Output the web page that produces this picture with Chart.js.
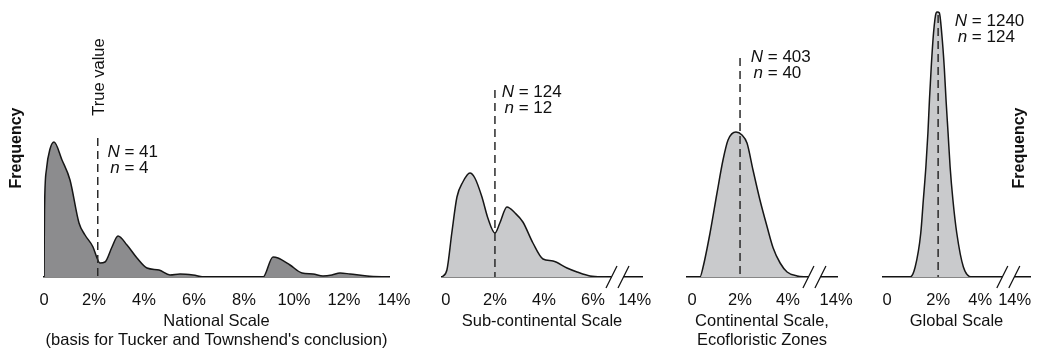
<!DOCTYPE html>
<html>
<head>
<meta charset="utf-8">
<script src="https://cdn.jsdelivr.net/npm/chart.js@4.4.1/dist/chart.umd.min.js"></script>
<style>
  html, body { margin: 0; padding: 0; background: #fff; overflow: hidden; }
  #wrap { position: relative; width: 1037px; height: 352px; overflow: hidden; }
  canvas { position: absolute; top: 0; }
</style>
</head>
<body>
<div id="wrap">
  <canvas id="c1" width="440" height="352" style="left:0px"></canvas>
  <canvas id="c2" width="280" height="352" style="left:410px"></canvas>
  <canvas id="c3" width="240" height="352" style="left:650px"></canvas>
  <canvas id="c4" width="210" height="352" style="left:850px"></canvas>
</div>
<script>
// x = error in %, y = frequency (arbitrary units)
const nationalX = [0, 0.02, 0.1, 0.24, 0.4, 0.72, 1.04, 1.4, 1.64, 1.96, 2.12, 2.24, 2.44, 2.72, 2.96, 3.32, 3.72, 4.12, 4.6, 5.04, 5.44, 5.96, 6.44, 8.76, 9.16, 9.36, 9.84, 10.32, 10.76, 11.16, 11.52, 11.84, 12.24, 12.92, 13.8];
const nationalY = [0, 67, 108, 128, 135, 117, 97, 54, 42, 30, 19, 14, 15, 30, 41, 32, 19, 9, 7, 2, 3, 2, 0, 0, 20, 19, 12, 4, 3, 1, 2, 4, 3, 1, 0];

const subcontX = [-0.16, 0.04, 0.24, 0.45, 0.69, 0.98, 1.18, 1.47, 1.71, 2.0, 2.2, 2.49, 2.82, 3.14, 3.55, 3.96, 4.37, 4.94, 5.35, 5.88, 6.57];
const subcontY = [0, 7, 44, 80, 95, 104, 99, 80, 59, 44, 54, 70, 64, 55, 34, 18, 16, 9, 5, 1, 0];

const continentX = [-0.21, 0.33, 0.46, 0.75, 1.04, 1.29, 1.5, 1.83, 2.08, 2.29, 2.54, 2.83, 3.13, 3.38, 3.67, 3.96, 4.38, 4.79];
const continentY = [0, 0, 10, 44, 84, 117, 137, 145, 142, 134, 107, 77, 50, 29, 14, 5, 1, 0];

const globalX = [-0.16, 0.9, 1.1, 1.32, 1.42, 1.52, 1.6, 1.66, 1.73, 1.82, 1.92, 1.97, 2.05, 2.14, 2.24, 2.31, 2.39, 2.47, 2.58, 2.73, 2.99, 3.32, 4.6];
const globalY = [0, 0, 10, 44, 77, 110, 144, 177, 210, 244, 264, 265, 264, 244, 210, 177, 144, 110, 77, 44, 10, 0, 0];

const truePos = [2.15, 2, 2, 2];
const sampleN = [41, 124, 403, 1240];
const sampleSmall = [4, 12, 40, 124];

// tick labels; after the axis break the last tick stands for 14%
const nationalTickPos = [0, 2, 4, 6, 8, 10, 12, 14];
const nationalTicks = ['0', '2%', '4%', '6%', '8%', '10%', '12%', '14%'];
const subcontTickPos = [0, 2, 4, 6, 7.7];
const subcontTicks = ['0', '2%', '4%', '6%', '14%'];
const continentTickPos = [0, 2, 4, 6];
const continentTicks = ['0', '2%', '4%', '14%'];
const globalTickPos = [0, 2, 3.65, 5.0];
const globalTicks = ['0', '2%', '4%', '14%'];

const titles = [
  ['National Scale', "(basis for Tucker and Townshend's conclusion)"],
  'Sub-continental Scale',
  ['Continental Scale,', 'Ecofloristic Zones'],
  'Global Scale'
];

const FONT = "'Liberation Sans', Arial, Helvetica, sans-serif";
Chart.defaults.font.family = FONT;
Chart.defaults.color = '#111';

const deco = {
  id: 'deco',
  afterDraw(chart, args, o) {
    const ctx = chart.ctx, xs = chart.scales.x, ys = chart.scales.y;
    const area = chart.chartArea, base = area.bottom;
    ctx.save();
    // axis break
    if (o.breakAt != null) {
      const xb = xs.getPixelForValue(o.breakAt);
      ctx.fillStyle = '#fff';
      ctx.fillRect(xb - 6, base - 3, 12, 6);
      ctx.strokeStyle = '#111';
      ctx.lineWidth = 1.3;
      [-6, 6].forEach(d => {
        ctx.beginPath();
        ctx.moveTo(xb + d - 5.5, base + 11);
        ctx.lineTo(xb + d + 5.5, base - 11);
        ctx.stroke();
      });
    }
    // true value line
    const xv = xs.getPixelForValue(o.truth);
    ctx.strokeStyle = '#2a2a2a';
    ctx.lineWidth = 1.5;
    ctx.setLineDash([8, 5]);
    ctx.beginPath();
    ctx.moveTo(xv, ys.getPixelForValue(o.lineTop));
    ctx.lineTo(xv, base);
    ctx.stroke();
    ctx.setLineDash([]);

    // N = .., n = ..
    ctx.fillStyle = '#111';
    ctx.textBaseline = 'middle';
    const nx = xv + o.noteDx, ny = ys.getPixelForValue(o.noteY);
    [['N', o.N], ['n', o.n]].forEach((p, i) => {
      ctx.font = 'italic 17px ' + FONT;
      ctx.textAlign = 'right';
      ctx.fillText(p[0], nx, ny + i * 16);
      ctx.font = '17px ' + FONT;
      ctx.textAlign = 'left';
      ctx.fillText(' = ' + p[1], nx, ny + i * 16);
    });

    if (o.trueLabel) {
      ctx.save();
      ctx.translate(xv + 1.5, ys.getPixelForValue(200));
      ctx.rotate(-Math.PI / 2);
      ctx.textAlign = 'center';
      ctx.font = '16.5px ' + FONT;
      ctx.fillText('True value', 0, 0);
      ctx.restore();
    }
    if (o.freqSide) {
      ctx.save();
      const fx = o.freqSide === 'left' ? area.left - 27 : area.right - 10;
      ctx.translate(fx, 148);
      ctx.rotate(-Math.PI / 2);
      ctx.textAlign = 'center';
      ctx.font = 'bold 16px ' + FONT;
      ctx.fillText('Frequency', 0, 0);
      ctx.restore();
    }
    ctx.restore();
  }
};

const panels = [
  { id: 'c1', xs: nationalX, ys: nationalY, fill: '#8c8c8e', min: 0, max: 13.8,
    tickPos: nationalTickPos, tickLabels: nationalTicks, title: titles[0], titlePad: 2,
    pad: { left: 44, right: 51 },
    deco: { truth: truePos[0], lineTop: 139, noteY: 125, noteDx: 22, N: sampleN[0], n: sampleSmall[0], trueLabel: true, freqSide: 'left' } },
  { id: 'c2', xs: subcontX, ys: subcontY, fill: '#c9cacc', min: -0.16, max: 8.0,
    tickPos: subcontTickPos, tickLabels: subcontTicks, title: titles[1], titlePad: 21,
    pad: { left: 32, right: 48 },
    deco: { truth: truePos[1], lineTop: 187, noteY: 185, noteDx: 19, N: sampleN[1], n: sampleSmall[1], breakAt: 7.0 } },
  { id: 'c3', xs: continentX, ys: continentY, fill: '#c9cacc', min: -0.21, max: 6.04,
    tickPos: continentTickPos, tickLabels: continentTicks, title: titles[2], titlePad: 2,
    pad: { left: 37, right: 53 },
    deco: { truth: truePos[2], lineTop: 219, noteY: 220, noteDx: 23, N: sampleN[2], n: sampleSmall[2], breakAt: 5.1 } },
  { id: 'c4', xs: globalX, ys: globalY, fill: '#c9cacc', min: -0.16, max: 5.6,
    tickPos: globalTickPos, tickLabels: globalTicks, title: titles[3], titlePad: 21,
    pad: { left: 33, right: 30 },
    deco: { truth: truePos[3], lineTop: 262, noteY: 256, noteDx: 29, N: sampleN[3], n: sampleSmall[3], breakAt: 4.75, freqSide: 'right' } }
];

panels.forEach(p => {
  new Chart(document.getElementById(p.id), {
    type: 'line',
    data: {
      datasets: [{
        data: p.xs.map((x, i) => ({ x: x, y: p.ys[i] })),
        borderColor: '#161616',
        borderWidth: 1.5,
        backgroundColor: p.fill,
        fill: 'origin',
        pointRadius: 0,
        cubicInterpolationMode: 'monotone'
      }]
    },
    options: {
      responsive: false,
      animation: false,
      layout: { padding: { left: p.pad.left, right: p.pad.right, top: 10, bottom: 0 } },
      plugins: { legend: { display: false }, tooltip: { enabled: false }, deco: p.deco },
      scales: {
        x: {
          type: 'linear',
          min: p.min,
          max: p.max,
          border: { display: true, color: '#111', width: 1.5 },
          grid: { display: false, drawTicks: false },
          ticks: {
            autoSkip: false,
            maxRotation: 0,
            padding: 14,
            color: '#111',
            font: { size: 16.5 },
            callback: (v, i) => p.tickLabels[i]
          },
          afterBuildTicks: axis => { axis.ticks = p.tickPos.map(v => ({ value: v })); },
          afterFit: axis => { axis.height = 75; },
          title: {
            display: true,
            text: p.title,
            color: '#111',
            font: { size: 16.5, lineHeight: 1.16 },
            padding: { top: 0, bottom: p.titlePad }
          }
        },
        y: { display: false, min: 0, max: 267 }
      }
    },
    plugins: [deco]
  });
});
</script>
</body>
</html>
